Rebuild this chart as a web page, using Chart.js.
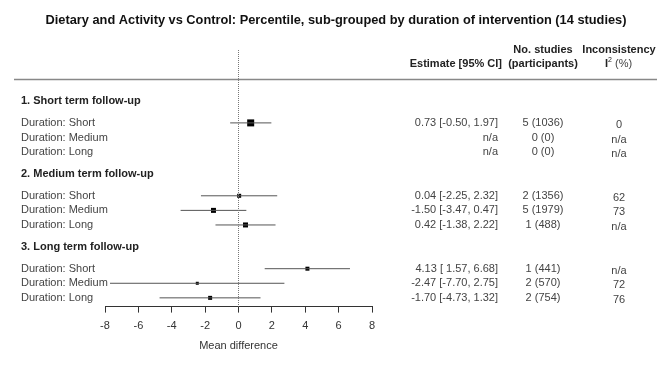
<!DOCTYPE html>
<html>
<head>
<meta charset="utf-8">
<script src="https://cdn.jsdelivr.net/npm/chart.js@4"></script>
<style>
  html, body { margin: 0; padding: 0; background: #fff; }
  canvas { display: block; }
</style>
</head>
<body>
<canvas id="forest" width="672" height="373"></canvas>
<script>
// ====== DATA ======
const chartTitle = "Dietary and Activity vs Control: Percentile, sub-grouped by duration of intervention (14 studies)";
const groups = ["1. Short term follow-up", "2. Medium term follow-up", "3. Long term follow-up"];
const rowLabels = ["Duration: Short", "Duration: Medium", "Duration: Long"];
const estimates = [0.73, null, null, 0.04, -1.50, 0.42, 4.13, -2.47, -1.70];
const lowerCI = [-0.50, null, null, -2.25, -3.47, -1.38, 1.57, -7.70, -4.73];
const upperCI = [1.97, null, null, 2.32, 0.47, 2.22, 6.68, 2.75, 1.32];
const studies = ["5 (1036)", "0 (0)", "0 (0)", "2 (1356)", "5 (1979)", "1 (488)", "1 (441)", "2 (570)", "2 (754)"];
const inconsistency = ["0", "n/a", "n/a", "62", "73", "n/a", "n/a", "72", "76"];
const xTicks = [-8, -6, -4, -2, 0, 2, 4, 6, 8];
const xLabel = "Mean difference";

// ====== STYLE / LAYOUT ======
const FONT = "'Liberation Sans', Arial, sans-serif";
const markerSide = [7, 0, 0, 4, 5, 5, 4, 3, 4]; // px, square size by weight
const yTop = 0, yAxis = 17.6;

// row i (0..8) -> vertical slot, group g -> slot of its heading
function rowPos(i) { return Math.floor(i / 3) * 5 + 5 + (i % 3); }
function groupPos(g) { return g * 5 + 3.5; }

function fmt(v) { return v.toFixed(2); }
function estText(i) {
  if (estimates[i] === null) return "n/a";
  const lo = lowerCI[i] >= 0 ? " " + fmt(lowerCI[i]) : fmt(lowerCI[i]);
  return fmt(estimates[i]) + " [" + lo + ", " + fmt(upperCI[i]) + "]";
}

// ====== DATASETS ======
const datasets = [];

// zero line
datasets.push({
  type: "line",
  data: [{ x: 0, y: yTop }, { x: 0, y: yAxis }],
  borderColor: "#777",
  borderWidth: 1,
  borderDash: [1, 1],
  pointRadius: 0,
  clip: false
});

// confidence interval whiskers
estimates.forEach((e, i) => {
  if (e === null) return;
  datasets.push({
    type: "line",
    data: [{ x: lowerCI[i], y: rowPos(i) }, { x: upperCI[i], y: rowPos(i) }],
    borderColor: "#555",
    borderWidth: 1,
    pointRadius: 0,
    clip: false
  });
});

// point estimates (squares)
const pts = [], radii = [];
estimates.forEach((e, i) => {
  if (e === null) return;
  pts.push({ x: e, y: rowPos(i) });
  radii.push(markerSide[i] / Math.SQRT2);
});
datasets.push({
  type: "scatter",
  data: pts,
  pointStyle: "rect",
  pointRadius: radii,
  pointHoverRadius: radii,
  backgroundColor: "#000",
  borderWidth: 0,
  clip: false
});

// ====== TEXT / TABLE PLUGIN ======
const tablePlugin = {
  id: "forestTable",
  afterDraw(chart) {
    const ctx = chart.ctx;
    const y = chart.scales.y;
    ctx.save();
    ctx.textBaseline = "middle";

    // title
    ctx.fillStyle = "#111";
    ctx.font = "bold 12.8px " + FONT;
    ctx.textAlign = "center";
    ctx.fillText(chartTitle, 336, 20);

    // column headers
    const h1 = y.getPixelForValue(0), h2 = y.getPixelForValue(0.97);
    ctx.font = "bold 11px " + FONT;
    ctx.fillStyle = "#222";
    ctx.textAlign = "right";
    ctx.fillText("Estimate [95% CI]", 502, h2);
    ctx.textAlign = "center";
    ctx.fillText("No. studies", 543, h1);
    ctx.fillText("(participants)", 543, h2);
    ctx.fillText("Inconsistency", 619, h1);
    // I^2 (%)
    ctx.textAlign = "left";
    const wI = ctx.measureText("I").width;
    ctx.font = "9px " + FONT;
    const w2 = ctx.measureText("2").width;
    ctx.font = "11px " + FONT;
    const wP = ctx.measureText(" (%)").width;
    let sx = 619 - (wI + w2 + wP) / 2;
    ctx.font = "bold 11px " + FONT;
    ctx.fillText("I", sx, h2);
    ctx.font = "7px " + FONT;
    ctx.fillText("2", sx + wI, h2 - 4);
    ctx.font = "11px " + FONT;
    ctx.fillStyle = "#444";
    ctx.fillText(" (%)", sx + wI + w2 - 1, h2);

    // header rule
    ctx.strokeStyle = "#888";
    ctx.lineWidth = 1.5;
    ctx.beginPath();
    const ry = Math.round(y.getPixelForValue(2)) + 0.5;
    ctx.moveTo(14, ry);
    ctx.lineTo(657, ry);
    ctx.stroke();

    // group headings
    ctx.font = "bold 11px " + FONT;
    ctx.fillStyle = "#222";
    ctx.textAlign = "left";
    groups.forEach((g, k) => ctx.fillText(g, 21, y.getPixelForValue(groupPos(k))));

    // rows
    ctx.font = "11px " + FONT;
    ctx.fillStyle = "#444";
    estimates.forEach((e, i) => {
      const py = y.getPixelForValue(rowPos(i));
      ctx.textAlign = "left";
      ctx.fillText(rowLabels[i % 3], 21, py);
      ctx.textAlign = "right";
      ctx.fillText(estText(i), 498, py);
      ctx.textAlign = "center";
      ctx.fillText(studies[i], 543, py);
      ctx.fillText(inconsistency[i], 619, py + 2);
    });
    ctx.restore();
  }
};

// ====== CHART ======
const forest = new Chart(document.getElementById("forest").getContext("2d"), {
  type: "scatter",
  data: { datasets: datasets },
  options: {
    responsive: false,
    animation: false,
    layout: { padding: { left: 105, right: 300, top: 50, bottom: 19 } },
    plugins: {
      legend: { display: false },
      tooltip: { enabled: false },
      title: { display: false }
    },
    scales: {
      x: {
        type: "linear",
        min: xTicks[0],
        max: xTicks[xTicks.length - 1],
        afterBuildTicks: (scale) => { scale.ticks = xTicks.map(v => ({ value: v })); },
        ticks: { color: "#333", font: { family: FONT, size: 11 }, padding: 7 },
        grid: { display: true, drawOnChartArea: false, drawTicks: true, tickLength: 6, color: "#333", tickColor: "#333" },
        border: { display: true, color: "#333", width: 1 },
        title: { display: true, text: xLabel, color: "#333", font: { family: FONT, size: 11 }, padding: { top: 0, bottom: 1 } }
      },
      y: {
        type: "linear",
        reverse: true,
        min: yTop,
        max: yAxis,
        display: false
      }
    }
  },
  plugins: [tablePlugin]
});
</script>
</body>
</html>
